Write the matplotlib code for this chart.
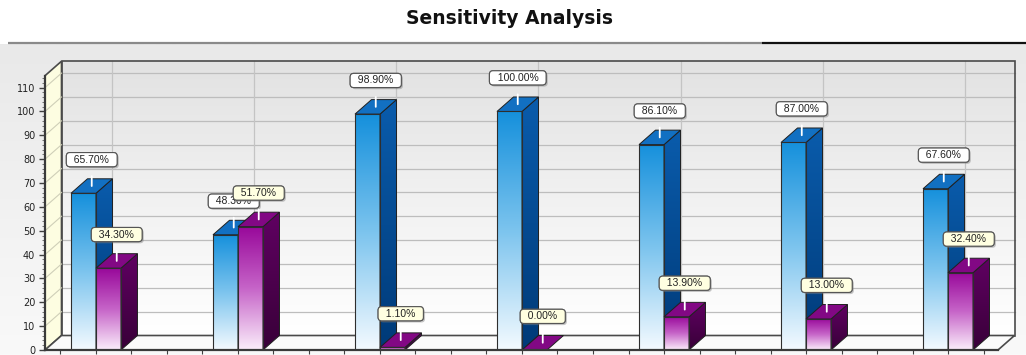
import numpy as np
import matplotlib
matplotlib.use("Agg")
import matplotlib.pyplot as plt
from matplotlib.colors import LinearSegmentedColormap
from matplotlib.patches import Polygon
from matplotlib.ticker import MultipleLocator, FixedLocator, NullFormatter
import matplotlib.patheffects as pe

# ---- data -------------------------------------------------------------
categories = ["1", "2", "3", "4", "5", "6", "7"]
series_a = [65.7, 48.3, 98.9, 100.0, 86.1, 87.0, 67.6]
series_b = [34.3, 51.7, 1.1, 0.0, 13.9, 13.0, 32.4]
y_ticks = list(range(0, 111, 10))
title = "Sensitivity Analysis"

# ---- figure -----------------------------------------------------------
W, H = 1026, 355
fig = plt.figure(figsize=(W / 100, H / 100), dpi=100)
fig.patch.set_facecolor("white")

# background panel + header rule
bg = fig.add_axes([0, 0, 1, 1])
bg.set_xlim(0, W)
bg.set_ylim(H, 0)
bg.axis("off")
panel_cmap = LinearSegmentedColormap.from_list("panel", ["#e9e9e9", "#f9f9f9"])
bg.imshow(np.linspace(0, 1, 256).reshape(-1, 1), extent=[0, W, H, 44],
          cmap=panel_cmap, aspect="auto", origin="upper", zorder=0)
bg.plot([8, 762], [43, 43], color="#8a8a8a", lw=1.6, solid_capstyle="butt", zorder=1)
bg.plot([762, W], [43, 43], color="#111111", lw=1.6, solid_capstyle="butt", zorder=1)
fig.text(510 / W, 1 - 24 / H, title, ha="center", va="baseline",
         fontsize=13.5, fontweight="bold", family="DejaVu Sans", color="#111111")

# main plotting area (front plane of the 3-D box)
ax = fig.add_axes([45 / W, 5 / H, 953 / W, 274.3 / H])
x = np.arange(len(categories))
xlim = (-0.359, 6.352)
ylim = (0, 115)
ax.set_xlim(*xlim)
ax.set_ylim(*ylim)
ax.set_autoscale_on(False)
ax.patch.set_visible(False)

# depth offset of the box in pixels -> data units
DEPTH_PX = (16.5, 14.5)
p0 = ax.transData.transform((0, 0))
d = ax.transData.inverted().transform(p0 + np.array(DEPTH_PX))
ddx, ddy = d[0], d[1]

edge = "#4a4a4a"


def vgrad(x0, x1, y0, y1, colors, clip, z):
    cmap = LinearSegmentedColormap.from_list("g", colors)
    im = ax.imshow(np.linspace(0, 1, 256).reshape(-1, 1), extent=[x0, x1, y0, y1],
                   origin="lower", cmap=cmap, aspect="auto", zorder=z,
                   interpolation="bilinear", clip_path=clip)
    im.set_clip_box(fig.bbox)
    return im


# back wall
x0, x1 = xlim
yt = ylim[1]
back = Polygon([(x0 + ddx, ddy), (x1 + ddx, ddy), (x1 + ddx, yt + ddy), (x0 + ddx, yt + ddy)],
               closed=True, facecolor="none", edgecolor=edge, lw=1.2, zorder=1.2,
               clip_on=False)
ax.add_patch(back)
vgrad(x0 + ddx, x1 + ddx, ddy, yt + ddy, ["#ffffff", "#f1f1f1", "#e2e2e2"], back, 1.0)
for v in y_ticks[1:]:
    ax.plot([x0 + ddx, x1 + ddx], [v + ddy, v + ddy], color="#bdbdbd", lw=0.9,
            zorder=1.1, clip_on=False)
for xc in x:
    ax.plot([xc + ddx, xc + ddx], [ddy, yt + ddy], color="#c4c4c4", lw=0.9,
            zorder=1.1, clip_on=False)

# left wall
left = Polygon([(x0, 0), (x0, yt), (x0 + ddx, yt + ddy), (x0 + ddx, ddy)], closed=True,
               facecolor="#fdfde1", edgecolor=edge, lw=1.2, zorder=1.3, clip_on=False)
ax.add_patch(left)
for v in y_ticks[1:]:
    ax.plot([x0, x0 + ddx], [v, v + ddy], color="#cfcfb8", lw=0.8, zorder=1.35,
            clip_on=False)

# floor
floor = Polygon([(x0, 0), (x1, 0), (x1 + ddx, ddy), (x0 + ddx, ddy)], closed=True,
                facecolor="#fbfbfb", edgecolor=edge, lw=1.2, zorder=1.3, clip_on=False)
ax.add_patch(floor)

# ---- bars -------------------------------------------------------------
bw = 0.176
styles = [
    dict(front=["#f4faff", "#7cc4ee", "#1590dc"], side=["#003a78", "#0a5cac"],
         top="#1270c2", z=3.0),
    dict(front=["#fbeefb", "#c664c8", "#98089a"], side=["#380038", "#600062"],
         top="#820884", z=5.0),
]

for vals, offs, st in ((series_a, -bw / 2, styles[0]), (series_b, bw / 2, styles[1])):
    z = st["z"]
    rects = ax.bar(x + offs, vals, width=bw, facecolor="none", edgecolor="#2e2e2e",
                   lw=0.8, zorder=z + 0.3)
    for r, v in zip(rects, vals):
        bx0 = r.get_x()
        bx1 = bx0 + r.get_width()
        if v > 0:
            vgrad(bx0, bx1, 0, v, st["front"], r, z)
            side = Polygon([(bx1, 0), (bx1 + ddx, ddy), (bx1 + ddx, v + ddy), (bx1, v)],
                           closed=True, facecolor="none", edgecolor="#202020", lw=0.7,
                           zorder=z + 0.2, clip_on=False)
            ax.add_patch(side)
            vgrad(bx1, bx1 + ddx, 0, v + ddy, st["side"], side, z + 0.1)
        top = Polygon([(bx0, v), (bx1, v), (bx1 + ddx, v + ddy), (bx0 + ddx, v + ddy)],
                      closed=True, facecolor=st["top"], edgecolor="#202020", lw=0.7,
                      zorder=z + 0.25, clip_on=False)
        ax.add_patch(top)

# ---- value labels -----------------------------------------------------
for vals, offs, fc, z in ((series_a, -bw / 2, "#ffffff", 7), (series_b, bw / 2, "#ffffe1", 8)):
    for xc, v in zip(x, vals):
        ann = ax.annotate(f"  {v:.2f}%  ", xy=(xc + offs + ddx / 2, v + ddy / 2),
                          xytext=(0, 19), textcoords="offset points",
                          ha="center", va="center", fontsize=7.5,
                          family="Liberation Sans", color="#222222", zorder=z,
                          annotation_clip=False,
                          bbox=dict(boxstyle="round,pad=0.2,rounding_size=0.35",
                                    fc=fc, ec="#555555", lw=0.8),
                          arrowprops=dict(arrowstyle="-", color="white", lw=1.3,
                                          shrinkA=6.5, shrinkB=0))
        ann.get_bbox_patch().set_path_effects(
            [pe.withSimplePatchShadow(offset=(1.2, -1.2), shadow_rgbFace="#808080",
                                      alpha=0.45), pe.Normal()])

# ---- axes styling -----------------------------------------------------
for s in ("top", "right"):
    ax.spines[s].set_visible(False)
for s in ("left", "bottom"):
    ax.spines[s].set_color("#3a3a3a")
    ax.spines[s].set_linewidth(1.6)
    ax.spines[s].set_zorder(9)

ax.set_yticks(y_ticks)
ax.set_yticklabels([str(t) for t in y_ticks], fontsize=7, color="#222222",
                   family="DejaVu Sans")
ax.yaxis.set_minor_locator(MultipleLocator(2))
ax.tick_params(axis="y", which="major", length=4, width=1, color="#404040", pad=3)
ax.tick_params(axis="y", which="minor", length=2, width=0.6, color="#606060")
ax.xaxis.set_major_locator(FixedLocator(np.arange(-0.25, 6.3, 0.25)))
ax.xaxis.set_major_formatter(NullFormatter())
ax.tick_params(axis="x", which="major", length=3, width=0.8, color="#404040")

fig.savefig("out.png", dpi=100)
